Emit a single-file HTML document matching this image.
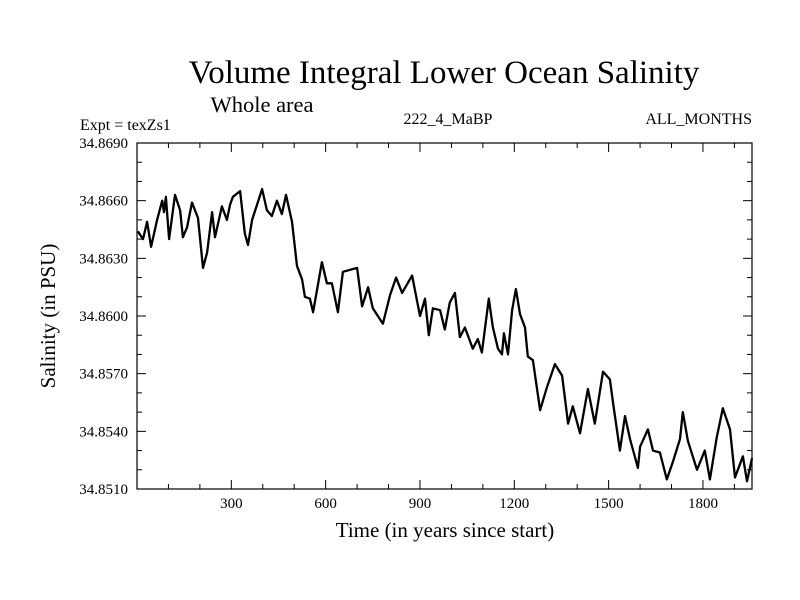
<!DOCTYPE html>
<html><head><meta charset="utf-8"><style>
body{margin:0;background:#fff}
svg{display:block;font-family:"Liberation Serif",serif}
</style></head><body>
<svg id="c" width="800" height="600">
<text x="444" y="83" font-size="33" text-anchor="middle">Volume Integral Lower Ocean Salinity</text>
<text x="262" y="112" font-size="22.5" text-anchor="middle">Whole area</text>
<text x="80" y="130" font-size="16">Expt = texZs1</text>
<text x="448" y="124" font-size="16" text-anchor="middle">222_4_MaBP</text>
<text x="752" y="124" font-size="16" text-anchor="end">ALL_MONTHS</text>
<text x="445" y="537" font-size="21" text-anchor="middle">Time (in years since start)</text>
<text transform="translate(55,316) rotate(-90)" font-size="21" text-anchor="middle">Salinity (in PSU)</text>
<g id="ticks"></g>
<rect x="137" y="143" width="615" height="346" fill="none" stroke="#000" stroke-width="1.2"/>
<path id="line" fill="none" stroke="#000" stroke-width="2.3" stroke-linejoin="round"/>
</svg>
<script>
const years=[3,19,32,45,64,80,86,92,102,121,137,146,159,175,194,210,223,239,248,270,286,296,305,328,343,353,366,398,413,429,445,461,474,493,509,525,534,550,560,588,604,620,639,655,700,716,735,750,782,805,824,843,875,900,916,928,941,964,979,995,1011,1027,1043,1068,1084,1097,1119,1132,1148,1161,1167,1180,1193,1205,1218,1234,1243,1259,1282,1304,1329,1352,1371,1386,1409,1434,1456,1482,1504,1514,1536,1552,1568,1593,1600,1625,1641,1663,1685,1704,1727,1736,1752,1781,1806,1822,1844,1863,1886,1902,1927,1940,1956];
const salinity=[34.8644,34.8640,34.8649,34.8636,34.8650,34.8660,34.8654,34.8662,34.8640,34.8663,34.8655,34.8641,34.8646,34.8659,34.8651,34.8625,34.8633,34.8654,34.8641,34.8657,34.8650,34.8658,34.8662,34.8665,34.8643,34.8637,34.8650,34.8666,34.8655,34.8652,34.8660,34.8653,34.8663,34.8649,34.8626,34.8619,34.8610,34.8609,34.8602,34.8628,34.8617,34.8617,34.8602,34.8623,34.8625,34.8605,34.8615,34.8604,34.8596,34.8611,34.8620,34.8612,34.8621,34.8600,34.8609,34.8590,34.8604,34.8603,34.8593,34.8607,34.8612,34.8589,34.8594,34.8583,34.8588,34.8581,34.8609,34.8594,34.8583,34.8580,34.8591,34.8580,34.8603,34.8614,34.8601,34.8594,34.8579,34.8577,34.8551,34.8563,34.8575,34.8569,34.8544,34.8553,34.8539,34.8562,34.8544,34.8571,34.8567,34.8555,34.8530,34.8548,34.8536,34.8521,34.8532,34.8541,34.8530,34.8529,34.8515,34.8524,34.8536,34.8550,34.8535,34.8520,34.8530,34.8515,34.8537,34.8552,34.8541,34.8516,34.8527,34.8514,34.8526];
const xTicks=[300,600,900,1200,1500,1800];
const yTicks=[34.8510,34.8540,34.8570,34.8600,34.8630,34.8660,34.8690];
const X0=137,X1=752,Y0=489,Y1=143,xMin=0,xMax=1956,yMin=34.851,yMax=34.869;
const sx=v=>X0+(v-xMin)/(xMax-xMin)*(X1-X0);
const sy=v=>Y0-(v-yMin)/(yMax-yMin)*(Y0-Y1);
const NS='http://www.w3.org/2000/svg';
const g=document.getElementById('ticks');
function ln(x1,y1,x2,y2){const l=document.createElementNS(NS,'line');l.setAttribute('x1',x1);l.setAttribute('y1',y1);l.setAttribute('x2',x2);l.setAttribute('y2',y2);l.setAttribute('stroke','#000');l.setAttribute('stroke-width','1');


g.appendChild(l);}
for(let v=100;v<xMax;v+=100){const x=sx(v),L=(v%300===0)?9:5;ln(x,Y0,x,Y0-L);ln(x,Y1,x,Y1+L);}
for(let k=0;k<=18;k++){const v=yMin+k*0.001,y=sy(v),L=(k%3===0)?9:5;ln(X0,y,X0+L,y);ln(X1,y,X1-L,y);}
xTicks.forEach(v=>{const t=document.createElementNS(NS,'text');t.setAttribute('x',sx(v));t.setAttribute('y',Y0+19);t.setAttribute('font-size','15');t.setAttribute('text-anchor','middle');t.textContent=v;


g.appendChild(t);});
yTicks.forEach(v=>{const t=document.createElementNS(NS,'text');t.setAttribute('x',128);t.setAttribute('y',sy(v)+5);t.setAttribute('font-size','15');t.setAttribute('text-anchor','end');t.textContent=v.toFixed(4);


g.appendChild(t);});
document.getElementById('line').setAttribute('d',years.map((y,i)=>(i?'L':'M')+sx(y).toFixed(1)+','+sy(salinity[i]).toFixed(1)).join(''));
</script>
</body></html>
